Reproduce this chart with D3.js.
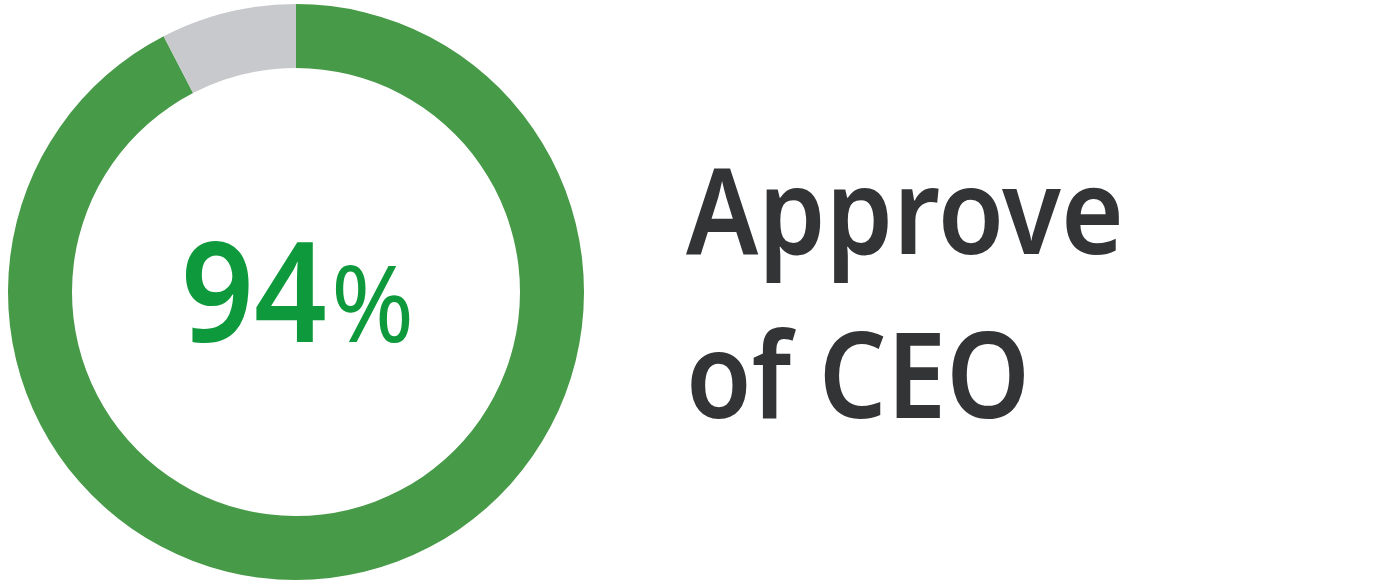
<!DOCTYPE html>
<html>
<head>
<meta charset="utf-8">
<script src="https://cdn.jsdelivr.net/npm/d3@7"></script>
<style>
  html, body { margin: 0; padding: 0; background: #fff; }
  svg { display: block; }
</style>
</head>
<body>
<svg id="chart" width="1388" height="584"></svg>
<script>
// slices as drawn in the ring
const sliceNames = ['approve', 'rest'];
const sliceValues = [92.4, 7.6];
const sliceColors = ['#479a48', '#c8c9cc'];
const bigNumber = '94';
const bigUnit = '%';
const labelLines = ['Approve', 'of CEO'];

const svg = d3.select('#chart');
const cx = 296, cy = 292;
const outerR = 288, innerR = 224;

const pie = d3.pie().sort(null).value(d => d.value);
const arc = d3.arc().innerRadius(innerR).outerRadius(outerR);

const slices = sliceNames.map((n, i) => ({ name: n, value: sliceValues[i], color: sliceColors[i] }));

const ring = svg.append('g').attr('transform', `translate(${cx},${cy})`);
ring.selectAll('path')
  .data(pie(slices))
  .join('path')
  .attr('d', arc)
  .attr('fill', d => d.data.color);

// centre number: narrower face size, stretched up to the tall digits
svg.append('text')
  .attr('transform', 'translate(181,342) scale(1.02,1.12)')
  .attr('font-family', '"Noto Sans", sans-serif')
  .attr('font-weight', 600)
  .attr('font-size', 125)
  .attr('fill', '#0e9a3c')
  .text(bigNumber);
svg.append('text')
  .attr('transform', 'translate(331,342) scale(1,1.06)')
  .attr('font-family', '"Noto Sans", sans-serif')
  .attr('font-weight', 400)
  .attr('font-size', 100)
  .attr('fill', '#0e9a3c')
  .text(bigUnit);

// label on the right
const lineY = [254, 418];
const lineW = [438, 344];
svg.append('g').selectAll('text')
  .data(labelLines)
  .join('text')
  .attr('x', 686)
  .attr('y', (d, i) => lineY[i])
  .attr('font-family', '"Noto Sans", sans-serif')
  .attr('font-weight', 600)
  .attr('font-size', 120)
  .attr('fill', '#333436')
  .attr('textLength', (d, i) => lineW[i])
  .attr('lengthAdjust', 'spacingAndGlyphs')
  .text(d => d);
</script>
</body>
</html>
